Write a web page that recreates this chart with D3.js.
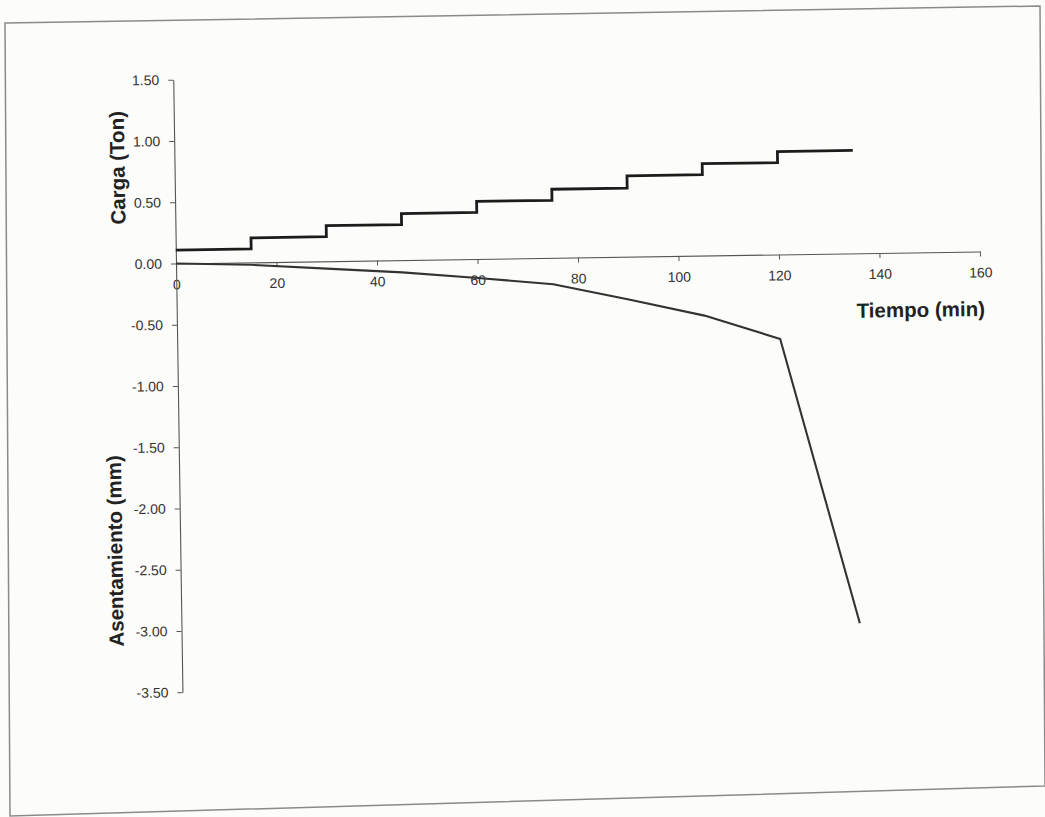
<!DOCTYPE html>
<html>
<head>
<meta charset="utf-8">
<script src="https://cdn.jsdelivr.net/npm/d3@7"></script>
<style>
  body { margin: 0; background: #fcfcfb; }
  text { font-family: "Liberation Sans", Arial, sans-serif; }
</style>
</head>
<body>
<div id="chart"></div>
<script>
let width = 1045;
let height = 817;

// Carga (Ton) vs tiempo, escalones de 15 min
let tiempoCarga = [0, 15, 30, 45, 60, 75, 90, 105, 120, 135];
let carga = [0.11, 0.20, 0.29, 0.38, 0.47, 0.56, 0.66, 0.75, 0.84, 0.84];

// Asentamiento (mm) vs tiempo
let tiempoAsent = [0, 15, 30, 45, 60, 75, 90, 105, 120, 135];
let asentamiento = [0, -0.02, -0.06, -0.10, -0.155, -0.215, -0.35, -0.49, -0.69, -3.02];

let xTicks = [0, 20, 40, 60, 80, 100, 120, 140, 160];
let yTicks = [1.5, 1.0, 0.5, 0, -0.5, -1.0, -1.5, -2.0, -2.5, -3.0, -3.5];

let svg = d3.select("#chart")
  .append("svg")
  .attr("width", width)
  .attr("height", height);

svg.append("rect")
  .attr("width", width)
  .attr("height", height)
  .attr("fill", "#fcfcfb");

// scanned page border (tilted, a bit skewed)
svg.append("polygon")
  .attr("points", "5,23 1040,6 1045,786 10,816")
  .attr("fill", "none")
  .attr("stroke", "#8a8a8a")
  .attr("stroke-width", 1.5);

// the whole plot is rotated a little, like the scan
let g = svg.append("g")
  .attr("transform", "rotate(-0.86, 176, 263.5)");

let x = d3.scaleLinear().domain([0, 160]).range([176, 980]);
let y = d3.scaleLinear().domain([-3.5, 1.5]).range([692.25, 79.75]);

let xAxis = d3.axisBottom(x)
  .tickValues(xTicks)
  .tickSize(5)
  .tickSizeOuter(0)
  .tickPadding(11)
  .tickFormat(d3.format("d"));

let yAxis = d3.axisLeft(y)
  .tickValues(yTicks)
  .tickSize(5)
  .tickSizeOuter(0)
  .tickPadding(9)
  .tickFormat(function(d) { return d.toFixed(2); });

let gx = g.append("g")
  .attr("transform", "translate(0," + y(0) + ")")
  .call(xAxis);

let gy = g.append("g")
  .attr("transform", "translate(" + x(0) + ",0)")
  .call(yAxis);

for (let a of [gx, gy]) {
  a.select(".domain").attr("stroke", "#555").attr("stroke-width", 1.1);
  a.selectAll(".tick line").attr("stroke", "#555");
  a.selectAll(".tick text")
    .attr("fill", "#333")
    .style("font-size", "14px")
    .style("font-family", "'Liberation Sans', Arial, sans-serif");
}

// step line for the load
let lineCarga = d3.line()
  .x(function(d, i) { return x(tiempoCarga[i]); })
  .y(function(d) { return y(d); })
  .curve(d3.curveStepAfter);

g.append("path")
  .datum(carga)
  .attr("d", lineCarga)
  .attr("fill", "none")
  .attr("stroke", "#1c1c1c")
  .attr("stroke-width", 2.8);

// settlement curve
let lineAsent = d3.line()
  .x(function(d, i) { return x(tiempoAsent[i]); })
  .y(function(d) { return y(d); });

g.append("path")
  .datum(asentamiento)
  .attr("d", lineAsent)
  .attr("fill", "none")
  .attr("stroke", "#333")
  .attr("stroke-width", 2.1)
  .attr("stroke-linejoin", "round");

// axis titles
g.append("text")
  .attr("transform", "translate(126,167) rotate(-90)")
  .attr("text-anchor", "middle")
  .style("font-size", "20.5px")
  .style("font-weight", "bold")
  .attr("fill", "#222")
  .text("Carga (Ton)");

g.append("text")
  .attr("transform", "translate(118,550) rotate(-90)")
  .attr("text-anchor", "middle")
  .style("font-size", "20.5px")
  .style("font-weight", "bold")
  .attr("fill", "#222")
  .text("Asentamiento (mm)");

g.append("text")
  .attr("x", 920)
  .attr("y", 328)
  .attr("text-anchor", "middle")
  .style("font-size", "20.5px")
  .style("font-weight", "bold")
  .attr("fill", "#222")
  .text("Tiempo (min)");
</script>
</body>
</html>
